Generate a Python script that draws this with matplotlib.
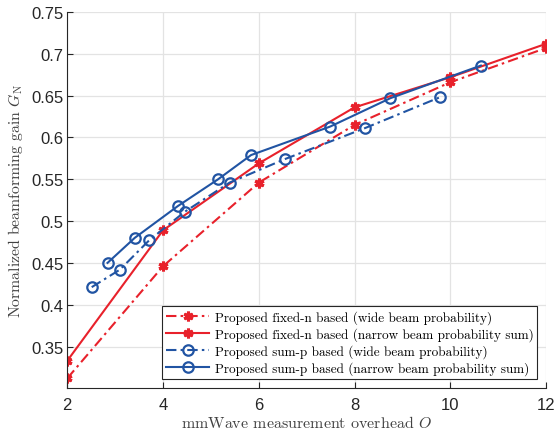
import matplotlib
matplotlib.use("Agg")
import matplotlib.pyplot as plt

plt.rcParams["mathtext.fontset"] = "cm"

# overhead values and normalized gains
o_fixed = [2, 4, 6, 8, 10, 12]
g_fixed_wide = [0.312, 0.446, 0.546, 0.615, 0.666, 0.707]
g_fixed_narrow = [0.333, 0.489, 0.569, 0.636, 0.672, 0.712]

o_sump_wide = [2.51, 3.10, 3.71, 4.45, 5.39, 6.54, 8.21, 9.78]
g_sump_wide = [0.421, 0.442, 0.477, 0.511, 0.546, 0.574, 0.611, 0.648]

o_sump_narrow = [2.84, 3.41, 4.31, 5.15, 5.84, 7.49, 8.75, 10.64]
g_sump_narrow = [0.450, 0.480, 0.518, 0.550, 0.579, 0.613, 0.647, 0.686]

labels = [
    "Proposed fixed-n based (wide beam probability)",
    "Proposed fixed-n based (narrow beam probability sum)",
    "Proposed sum-p based (wide beam probability)",
    "Proposed sum-p based (narrow beam probability sum)",
]

red = "#e8212b"
blue = "#2154a3"
dashdot = (0, (5, 2, 1.2, 2))
star = (6, 2, 0)

fig = plt.figure(figsize=(5.59, 4.35), dpi=100)
ax = fig.add_axes([0.1204, 0.105, 0.8563, 0.865])

ax.plot(o_fixed, g_fixed_wide, color=red, ls=dashdot, lw=1.5,
        marker=star, ms=7, mew=2.2, label=labels[0])
ax.plot(o_fixed, g_fixed_narrow, color=red, ls="-", lw=1.5,
        marker=star, ms=7, mew=2.2, label=labels[1])
ax.plot(o_sump_wide, g_sump_wide, color=blue, ls=dashdot, lw=1.5,
        marker="o", ms=7.5, mfc="none", mew=1.6, label=labels[2])
ax.plot(o_sump_narrow, g_sump_narrow, color=blue, ls="-", lw=1.5,
        marker="o", ms=7.5, mfc="none", mew=1.6, label=labels[3])

ax.set_xlim(2, 12)
ax.set_ylim(0.3, 0.75)
ax.set_xticks([2, 4, 6, 8, 10, 12])
ax.set_yticks([0.35, 0.4, 0.45, 0.5, 0.55, 0.6, 0.65, 0.7, 0.75])
ax.set_yticklabels(["0.35", "0.4", "0.45", "0.5", "0.55", "0.6", "0.65", "0.7", "0.75"])

ax.grid(True, color="#e3e3e3", lw=0.9)
ax.set_axisbelow(True)
for s in ["top", "right"]:
    ax.spines[s].set_visible(False)
for s in ["left", "bottom"]:
    ax.spines[s].set_color("#262626")
    ax.spines[s].set_linewidth(0.8)
ax.tick_params(direction="in", length=4, width=0.8, colors="#262626",
               labelsize=12)
ax.tick_params(axis="x", pad=6)
ax.tick_params(axis="y", pad=3)
for t in ax.get_xticklabels() + ax.get_yticklabels():
    t.set_fontfamily("Liberation Sans")

ax.set_xlabel(r"mmWave measurement overhead $O$", fontfamily="cmr10",
              fontsize=11.5, color="#404040", labelpad=2)
ax.set_ylabel(r"Normalized beamforming gain $G_\mathrm{N}$", fontfamily="cmr10",
              fontsize=11.3, color="#404040", labelpad=4)

leg = ax.legend(loc="lower right", bbox_to_anchor=(0.982, 0.0247),
                prop={"family": "cmr10", "size": 9.5}, fancybox=False,
                framealpha=1, edgecolor="#262626", handlelength=3.3,
                borderpad=0.3, labelspacing=0.25, handletextpad=0.4,
                borderaxespad=0)
leg.get_frame().set_linewidth(0.8)

fig.savefig("out.png", dpi=100)
